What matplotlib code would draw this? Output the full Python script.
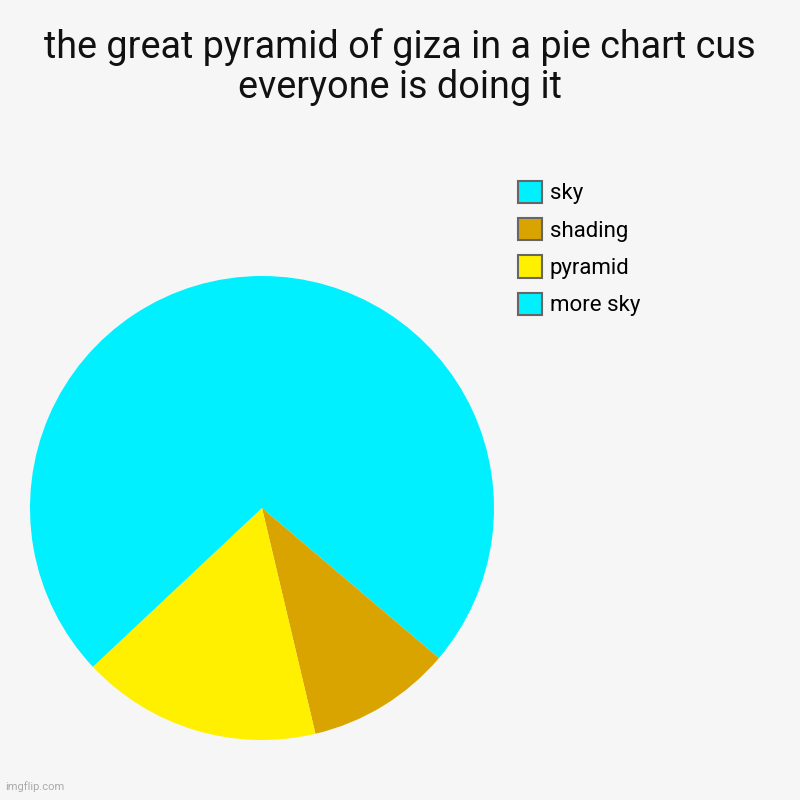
import matplotlib.pyplot as plt

labels = ['sky', 'shading', 'pyramid', 'more sky']
values = [36.2, 10.1, 16.7, 37.0]
colors = ['#00F0FF', '#D9A400', '#FFF000', '#00F0FF']
title = 'the great pyramid of giza in a pie chart cus\neveryone is doing it'

plt.rcParams['font.family'] = ['Roboto', 'DejaVu Sans']
bg = '#F6F6F6'

fig = plt.figure(figsize=(8, 8), dpi=100, facecolor=bg)
ax = fig.add_axes([0.0375, 0.075, 0.58, 0.58])
ax.set_facecolor(bg)

wedges, _ = ax.pie(values, colors=colors, startangle=90, counterclock=False,
                   radius=1, wedgeprops=dict(linewidth=0))
ax.set_xlim(-1, 1)
ax.set_ylim(-1, 1)
ax.set_aspect('equal')
ax.axis('off')

fig.text(0.5, 0.916, title, ha='center', va='center', fontsize=27.2,
         color='#111111', linespacing=1.1)

leg = fig.legend(wedges, labels, loc='upper left', bbox_to_anchor=(0.648, 0.774),
                 frameon=False, fontsize=16, handlelength=1.05, handleheight=1.15,
                 handletextpad=0.35, labelspacing=0.62, borderpad=0,
                 borderaxespad=0)
for h in leg.legend_handles:
    h.set_edgecolor('#666666')
    h.set_linewidth(1.5)

fig.text(0.006, 0.012, 'imgflip.com', fontsize=8, color='#AAAAAA')

fig.savefig('out.png', dpi=100, facecolor=bg)
